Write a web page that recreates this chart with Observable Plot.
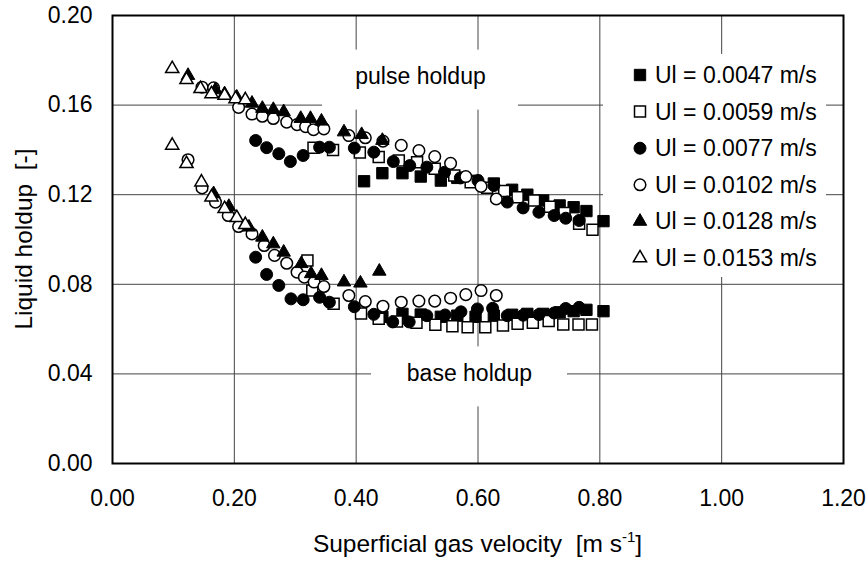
<!DOCTYPE html>
<html>
<head>
<meta charset="utf-8">
<script src="https://cdn.jsdelivr.net/npm/d3@7"></script>
<script src="https://cdn.jsdelivr.net/npm/@observablehq/plot@0.6"></script>
<style>
  html, body { margin: 0; padding: 0; background: #fff; }
  #chart svg { display: block; }
</style>
</head>
<body>
<div id="chart"></div>
<script>
// Liquid holdup measured in the pulsing regime: each liquid velocity gives a
// "pulse" branch (holdup inside the pulses) and a "base" branch (between pulses).
// Points are [superficial gas velocity (m/s), liquid holdup (-)].

const ul0047Pulse = [[0.413,0.1260],[0.443,0.1296],[0.476,0.1296],[0.506,0.1281],[0.539,0.1263],[0.566,0.1275],[0.596,0.1262],[0.626,0.1250],[0.656,0.1222],[0.681,0.1200],[0.707,0.1174],[0.734,0.1152],[0.757,0.1144],[0.778,0.1127],[0.806,0.1082]];
const ul0047Base  = [[0.443,0.0655],[0.476,0.0668],[0.506,0.0665],[0.539,0.0655],[0.566,0.0660],[0.596,0.0655],[0.626,0.0660],[0.656,0.0664],[0.681,0.0668],[0.707,0.0668],[0.734,0.0675],[0.757,0.0680],[0.778,0.0686],[0.806,0.0680]];

const ul0059Pulse = [[0.330,0.1410],[0.362,0.1400],[0.406,0.1388],[0.437,0.1368],[0.470,0.1353],[0.500,0.1345],[0.529,0.1316],[0.561,0.1286],[0.588,0.1256],[0.615,0.1231],[0.643,0.1216],[0.665,0.1189],[0.692,0.1174],[0.718,0.1146],[0.742,0.1118],[0.766,0.1070],[0.788,0.1043]];
const ul0059Base  = [[0.320,0.0906],[0.328,0.0772],[0.363,0.0713],[0.408,0.0670],[0.437,0.0646],[0.467,0.0634],[0.499,0.0628],[0.530,0.0619],[0.558,0.0613],[0.583,0.0608],[0.612,0.0608],[0.641,0.0616],[0.665,0.0624],[0.690,0.0628],[0.716,0.0636],[0.740,0.0620],[0.765,0.0620],[0.787,0.0620]];

const ul0077Pulse = [[0.235,0.1442],[0.253,0.1410],[0.273,0.1383],[0.292,0.1348],[0.313,0.1375],[0.340,0.1412],[0.356,0.1412],[0.397,0.1408],[0.429,0.1390],[0.461,0.1348],[0.488,0.1330],[0.516,0.1323],[0.545,0.1300],[0.571,0.1275],[0.600,0.1263],[0.626,0.1241],[0.648,0.1167],[0.674,0.1141],[0.700,0.1122],[0.725,0.1107],[0.744,0.1095],[0.766,0.1085]];
const ul0077Base  = [[0.235,0.0921],[0.253,0.0844],[0.273,0.0795],[0.293,0.0735],[0.313,0.0731],[0.340,0.0742],[0.356,0.0720],[0.397,0.0700],[0.429,0.0666],[0.460,0.0632],[0.487,0.0632],[0.516,0.0660],[0.546,0.0663],[0.572,0.0677],[0.599,0.0690],[0.624,0.0693],[0.648,0.0660],[0.674,0.0662],[0.700,0.0665],[0.725,0.0672],[0.744,0.0692],[0.766,0.0697]];

const ul0102Pulse = [[0.147,0.1680],[0.166,0.1677],[0.207,0.1590],[0.229,0.1560],[0.246,0.1550],[0.264,0.1540],[0.286,0.1524],[0.303,0.1513],[0.317,0.1504],[0.330,0.1490],[0.347,0.1494],[0.388,0.1464],[0.415,0.1454],[0.444,0.1439],[0.474,0.1420],[0.503,0.1397],[0.529,0.1370],[0.555,0.1340],[0.580,0.1281],[0.605,0.1237],[0.630,0.1181]];
const ul0102Base  = [[0.124,0.1356],[0.147,0.1230],[0.169,0.1167],[0.190,0.1107],[0.207,0.1058],[0.229,0.1025],[0.249,0.0973],[0.266,0.0929],[0.286,0.0894],[0.303,0.0854],[0.315,0.0832],[0.331,0.0810],[0.347,0.0790],[0.388,0.0750],[0.415,0.0723],[0.444,0.0702],[0.474,0.0720],[0.503,0.0725],[0.529,0.0725],[0.555,0.0738],[0.580,0.0754],[0.605,0.0772],[0.630,0.0750]];

const ul0128Pulse = [[0.124,0.1732],[0.169,0.1668],[0.184,0.1650],[0.204,0.1635],[0.229,0.1608],[0.246,0.1585],[0.264,0.1580],[0.281,0.1570],[0.309,0.1540],[0.325,0.1540],[0.343,0.1528],[0.380,0.1480],[0.409,0.1468],[0.443,0.1442]];
const ul0128Base  = [[0.166,0.1204],[0.191,0.1147],[0.224,0.1055],[0.246,0.1010],[0.264,0.0980],[0.281,0.0943],[0.310,0.0892],[0.326,0.0847],[0.343,0.0839],[0.380,0.0810],[0.407,0.0805],[0.438,0.0858]];

const ul0153Pulse = [[0.098,0.1762],[0.1215,0.1713],[0.1445,0.1673],[0.1625,0.1650],[0.184,0.1643],[0.202,0.1628],[0.218,0.1623]];
const ul0153Base  = [[0.098,0.1420],[0.1215,0.1338],[0.146,0.1256],[0.1625,0.1189],[0.184,0.1137],[0.204,0.1097],[0.218,0.1066]];

const seriesLabels = ["Ul = 0.0047 m/s", "Ul = 0.0059 m/s", "Ul = 0.0077 m/s", "Ul = 0.0102 m/s", "Ul = 0.0128 m/s", "Ul = 0.0153 m/s"];
const pulseBranches = [ul0047Pulse, ul0059Pulse, ul0077Pulse, ul0102Pulse, ul0128Pulse, ul0153Pulse];
const baseBranches  = [ul0047Base, ul0059Base, ul0077Base, ul0102Base, ul0128Base, ul0153Base];

const xTicks = [0, 0.2, 0.4, 0.6, 0.8, 1.0, 1.2];
const yTicks = [0, 0.04, 0.08, 0.12, 0.16, 0.20];

// In-plot annotations (anchored in data units)
const regimeText = ["pulse holdup", "base holdup"];
const regimeX = [0.5056, 0.586];
const regimeY = [0.1725, 0.0400];

// ---- drawing ----
const W = 866, H = 565;
const M = {top: 15, right: 23, bottom: 102, left: 112};
const FONT = '"Liberation Sans", Arial, Helvetica, sans-serif';
const FS = 23;       // tick labels, annotations, legend
const TITLE_FS = 24.5;

// marker look for each liquid velocity
const markers = [
  {symbol: "square",   fill: "black", r: 6.4, sw: 1},
  {symbol: "square",   fill: "white", r: 6.2, sw: 1.5},
  {symbol: "circle",   fill: "black", r: 6.0, sw: 1},
  {symbol: "circle",   fill: "white", r: 5.8, sw: 1.5},
  {symbol: "triangle", fill: "black", r: 5.0, sw: 1},
  {symbol: "triangle", fill: "white", r: 4.9, sw: 1.5}
];

const rows = [];
seriesLabels.forEach((label, i) => {
  for (const [x, y] of pulseBranches[i]) rows.push({series: i, branch: "pulse", x, y});
  for (const [x, y] of baseBranches[i]) rows.push({series: i, branch: "base", x, y});
});

const annotations = regimeText.map((text, i) => ({text, x: regimeX[i], y: regimeY[i]}));

// white panel behind each annotation, given in pixels and converted to data units
const pxPerX = (W - M.left - M.right) / 1.2;
const pxPerY = (H - M.top - M.bottom) / 0.2;
const boxHalfW = 98 / pxPerX, boxHalfH = 30 / pxPerY, boxShiftY = -3 / pxPerY;

const gridX = xTicks.slice(1, -1);
const gridY = yTicks.slice(1, -1);

const svg = Plot.plot({
  width: W,
  height: H,
  marginTop: M.top,
  marginRight: M.right,
  marginBottom: M.bottom,
  marginLeft: M.left,
  style: {fontFamily: FONT, fontSize: FS + "px", color: "black", background: "white"},
  x: {domain: [0, 1.2], ticks: xTicks, tickFormat: d3.format(".2f"), tickSize: 0, tickPadding: 26, label: null},
  y: {domain: [0, 0.2], ticks: yTicks, tickFormat: d3.format(".2f"), tickSize: 0, tickPadding: 20, label: null},
  marks: [
    Plot.ruleX(gridX, {stroke: "#444", strokeWidth: 1}),
    Plot.ruleY(gridY, {stroke: "#444", strokeWidth: 1}),
    Plot.rect(annotations, {
      x1: d => d.x - boxHalfW, x2: d => d.x + boxHalfW,
      y1: d => d.y - boxHalfH + boxShiftY, y2: d => d.y + boxHalfH + boxShiftY,
      fill: "white"
    }),
    Plot.text(annotations, {x: "x", y: "y", text: "text", fontSize: FS, fill: "black"}),
    Plot.frame({stroke: "black", strokeWidth: 2}),
    ...markers.map((m, i) => Plot.dot(rows.filter(d => d.series === i), {
      x: "x", y: "y", symbol: m.symbol, r: m.r,
      fill: m.fill, stroke: "black", strokeWidth: m.sw
    }))
  ]
});

// legend panel, placed under the point marks
const symbolTypes = {square: d3.symbolSquare, circle: d3.symbolCircle, triangle: d3.symbolTriangle};
const legend = d3.create("svg:g")
  .attr("font-family", FONT).attr("font-size", FS).attr("text-anchor", "start");
legend.append("rect")
  .attr("x", 603).attr("y", 54).attr("width", 223).attr("height", 223)
  .attr("fill", "white");
seriesLabels.forEach((label, i) => {
  const m = markers[i];
  const cy = 75 + i * 36.6;
  legend.append("path")
    .attr("transform", `translate(640,${cy})`)
    .attr("d", d3.symbol(symbolTypes[m.symbol], Math.PI * m.r * m.r)())
    .attr("fill", m.fill).attr("stroke", "black").attr("stroke-width", m.sw);
  legend.append("text")
    .attr("x", 655).attr("y", cy).attr("dy", "0.35em")
    .attr("text-anchor", "start")
    .attr("fill", "black")
    .text(label);
});
const firstDots = svg.querySelector('g[aria-label="dot"]');
svg.insertBefore(legend.node(), firstDots);

// axis titles
const root = d3.select(svg);
const xTitle = root.append("text")
  .attr("x", (M.left + W - M.right) / 2).attr("y", 543).attr("dy", "0.35em")
  .attr("text-anchor", "middle").attr("font-size", TITLE_FS).attr("fill", "black")
  .style("white-space", "pre");
xTitle.append("tspan").text("Superficial gas velocity  [m s");
xTitle.append("tspan").attr("dy", -10).attr("font-size", 15).text("-1");
xTitle.append("tspan").attr("dy", 10).text("]");

root.append("text")
  .attr("transform", `translate(23,${(M.top + H - M.bottom) / 2}) rotate(-90)`)
  .attr("dy", "0.35em").attr("text-anchor", "middle")
  .attr("font-size", TITLE_FS).attr("fill", "black")
  .style("white-space", "pre")
  .text("Liquid holdup  [-]");

document.getElementById("chart").appendChild(svg);
</script>
</body>
</html>
